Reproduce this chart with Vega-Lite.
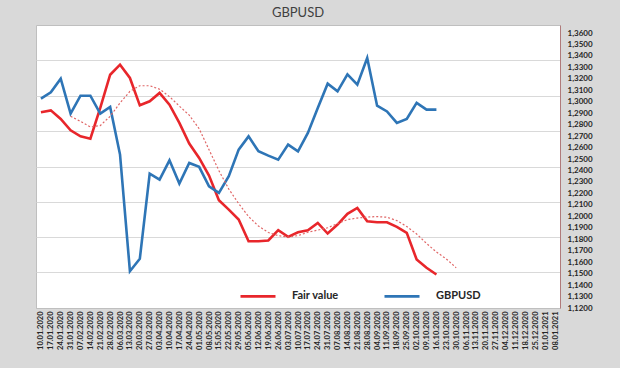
{
  "$schema": "https://vega.github.io/schema/vega-lite/v6.json",
  "autosize": "none",
  "width": 524,
  "height": 283,
  "padding": {"left": 36, "top": 25, "right": 60, "bottom": 60},
  "background": "#d9d9d9",
  "title": {"text": "GBPUSD", "font": "Lato", "fontSize": 13, "fontWeight": "normal", "color": "#404040", "offset": 5, "anchor": "middle"},
  "config": {
    "view": {"fill": "white", "stroke": "#bfbfbf", "strokeWidth": 1},
    "font": "Lato"
  },
  "data": {"values": [
    {"date": "10.01.2020", "gbpusd": 1.3027, "fair": 1.2908, "ma": null},
    {"date": "17.01.2020", "gbpusd": 1.3082, "fair": 1.2925, "ma": null},
    {"date": "24.01.2020", "gbpusd": 1.3202, "fair": 1.2850, "ma": null},
    {"date": "31.01.2020", "gbpusd": 1.2896, "fair": 1.2751, "ma": 1.2873},
    {"date": "07.02.2020", "gbpusd": 1.3053, "fair": 1.2698, "ma": 1.2829},
    {"date": "14.02.2020", "gbpusd": 1.3053, "fair": 1.2678, "ma": 1.2780},
    {"date": "21.02.2020", "gbpusd": 1.2896, "fair": 1.2946, "ma": 1.2792},
    {"date": "28.02.2020", "gbpusd": 1.2955, "fair": 1.3236, "ma": 1.2873},
    {"date": "06.03.2020", "gbpusd": 1.2539, "fair": 1.3324, "ma": 1.2990},
    {"date": "13.03.2020", "gbpusd": 1.1521, "fair": 1.3208, "ma": 1.3091},
    {"date": "20.03.2020", "gbpusd": 1.1629, "fair": 1.2969, "ma": 1.3140},
    {"date": "27.03.2020", "gbpusd": 1.2373, "fair": 1.3004, "ma": 1.3140},
    {"date": "03.04.2020", "gbpusd": 1.2321, "fair": 1.3077, "ma": 1.3110},
    {"date": "10.04.2020", "gbpusd": 1.2489, "fair": 1.2975, "ma": 1.3045},
    {"date": "17.04.2020", "gbpusd": 1.2286, "fair": 1.2815, "ma": 1.2962},
    {"date": "24.04.2020", "gbpusd": 1.2466, "fair": 1.2635, "ma": 1.2883},
    {"date": "01.05.2020", "gbpusd": 1.2432, "fair": 1.2510, "ma": 1.2765},
    {"date": "08.05.2020", "gbpusd": 1.2262, "fair": 1.2356, "ma": 1.2582},
    {"date": "15.05.2020", "gbpusd": 1.2205, "fair": 1.2140, "ma": 1.2399},
    {"date": "22.05.2020", "gbpusd": 1.2350, "fair": 1.2059, "ma": 1.2238},
    {"date": "29.05.2020", "gbpusd": 1.2582, "fair": 1.1972, "ma": 1.2111},
    {"date": "05.06.2020", "gbpusd": 1.2698, "fair": 1.1783, "ma": 1.1998},
    {"date": "12.06.2020", "gbpusd": 1.2568, "fair": 1.1783, "ma": 1.1915},
    {"date": "19.06.2020", "gbpusd": 1.2530, "fair": 1.1789, "ma": 1.1859},
    {"date": "26.06.2020", "gbpusd": 1.2495, "fair": 1.1879, "ma": 1.1832},
    {"date": "03.07.2020", "gbpusd": 1.2626, "fair": 1.1821, "ma": 1.1819},
    {"date": "10.07.2020", "gbpusd": 1.2568, "fair": 1.1861, "ma": 1.1832},
    {"date": "17.07.2020", "gbpusd": 1.2728, "fair": 1.1879, "ma": 1.1861},
    {"date": "24.07.2020", "gbpusd": 1.2946, "fair": 1.1943, "ma": 1.1880},
    {"date": "31.07.2020", "gbpusd": 1.3158, "fair": 1.1850, "ma": 1.1900},
    {"date": "07.08.2020", "gbpusd": 1.3091, "fair": 1.1928, "ma": 1.1937},
    {"date": "14.08.2020", "gbpusd": 1.3239, "fair": 1.2022, "ma": 1.1972},
    {"date": "21.08.2020", "gbpusd": 1.3149, "fair": 1.2074, "ma": 1.1985},
    {"date": "28.08.2020", "gbpusd": 1.3382, "fair": 1.1957, "ma": 1.1994},
    {"date": "04.09.2020", "gbpusd": 1.2966, "fair": 1.1948, "ma": 1.1998},
    {"date": "11.09.2020", "gbpusd": 1.2916, "fair": 1.1948, "ma": 1.1992},
    {"date": "18.09.2020", "gbpusd": 1.2815, "fair": 1.1908, "ma": 1.1963},
    {"date": "25.09.2020", "gbpusd": 1.2850, "fair": 1.1856, "ma": 1.1911},
    {"date": "02.10.2020", "gbpusd": 1.2990, "fair": 1.1623, "ma": 1.1846},
    {"date": "09.10.2020", "gbpusd": 1.2931, "fair": 1.1551, "ma": 1.1763},
    {"date": "16.10.2020", "gbpusd": 1.2931, "fair": 1.1492, "ma": 1.1689},
    {"date": "23.10.2020", "gbpusd": null, "fair": null, "ma": 1.1628},
    {"date": "30.10.2020", "gbpusd": null, "fair": null, "ma": 1.1551},
    {"date": "06.11.2020", "gbpusd": null, "fair": null, "ma": null},
    {"date": "13.11.2020", "gbpusd": null, "fair": null, "ma": null},
    {"date": "20.11.2020", "gbpusd": null, "fair": null, "ma": null},
    {"date": "27.11.2020", "gbpusd": null, "fair": null, "ma": null},
    {"date": "04.12.2020", "gbpusd": null, "fair": null, "ma": null},
    {"date": "11.12.2020", "gbpusd": null, "fair": null, "ma": null},
    {"date": "18.12.2020", "gbpusd": null, "fair": null, "ma": null},
    {"date": "25.12.2020", "gbpusd": null, "fair": null, "ma": null},
    {"date": "01.01.2021", "gbpusd": null, "fair": null, "ma": null},
    {"date": "08.01.2021", "gbpusd": null, "fair": null, "ma": null}
  ]},
  "encoding": {
    "x": {
      "field": "date", "type": "ordinal", "sort": null,
      "scale": {"type": "point", "padding": 0.5, "domain": ["10.01.2020","17.01.2020","24.01.2020","31.01.2020","07.02.2020","14.02.2020","21.02.2020","28.02.2020","06.03.2020","13.03.2020","20.03.2020","27.03.2020","03.04.2020","10.04.2020","17.04.2020","24.04.2020","01.05.2020","08.05.2020","15.05.2020","22.05.2020","29.05.2020","05.06.2020","12.06.2020","19.06.2020","26.06.2020","03.07.2020","10.07.2020","17.07.2020","24.07.2020","31.07.2020","07.08.2020","14.08.2020","21.08.2020","28.08.2020","04.09.2020","11.09.2020","18.09.2020","25.09.2020","02.10.2020","09.10.2020","16.10.2020","23.10.2020","30.10.2020","06.11.2020","13.11.2020","20.11.2020","27.11.2020","04.12.2020","11.12.2020","18.12.2020","25.12.2020","01.01.2021","08.01.2021"]},
      "axis": {"title": null, "labelAngle": 270, "labelFontSize": 7.5, "labelFontWeight": "bold", "labelColor": "#262626", "labelOverlap": false, "labelPadding": 3, "ticks": false, "domainColor": "#bfbfbf", "grid": false}
    }
  },
  "layer": [
    {
      "transform": [{"fold": ["fair", "gbpusd"], "as": ["key", "value"]}],
      "mark": {"type": "line", "strokeWidth": 2.6, "strokeJoin": "miter"},
      "encoding": {
        "y": {
          "field": "value", "type": "quantitative",
          "scale": {"domain": [1.12, 1.367], "zero": false, "nice": false},
          "axis": {"orient": "right", "title": null, "grid": false, "ticks": false, "labelPadding": 7, "labelFontSize": 8, "labelFontWeight": "bold", "labelColor": "#262626", "domainColor": "#b07a7a", "values": [1.12,1.13,1.14,1.15,1.16,1.17,1.18,1.19,1.2,1.21,1.22,1.23,1.24,1.25,1.26,1.27,1.28,1.29,1.3,1.31,1.32,1.33,1.34,1.35,1.36], "labelExpr": "replace(format(datum.value, '.4f'), '.', ',')"}
        },
        "color": {
          "field": "key", "type": "nominal",
          "scale": {"domain": ["fair", "gbpusd"], "range": ["#e8262b", "#2e75b6"]},
          "legend": {"title": null, "orient": "none", "legendX": 203, "legendY": 252, "direction": "horizontal", "symbolType": "stroke", "symbolSize": 1225, "symbolStrokeWidth": 2.6, "labelFontSize": 11, "labelFontWeight": "bold", "labelColor": "#262626", "labelOffset": 15, "columnPadding": 40, "padding": 0, "labelExpr": "datum.value == 'fair' ? 'Fair value' : 'GBPUSD'"}
        }
      }
    },
    {
      "mark": {"type": "line", "strokeWidth": 1.2, "strokeDash": [2, 2], "color": "#e06666"},
      "encoding": {
        "y": {
          "field": "ma", "type": "quantitative",
          "scale": {"domain": [1.12, 1.367], "zero": false, "nice": false},
          "axis": {"orient": "left", "title": null, "grid": true, "gridColor": "#d9d9d9", "gridWidth": 1, "labels": false, "ticks": false, "domain": false, "values": [1.1512, 1.1818, 1.2126, 1.2432, 1.2742, 1.3047, 1.3361]}
        }
      }
    }
  ],
  "resolve": {"scale": {"y": "independent"}, "axis": {"y": "independent"}}
}
